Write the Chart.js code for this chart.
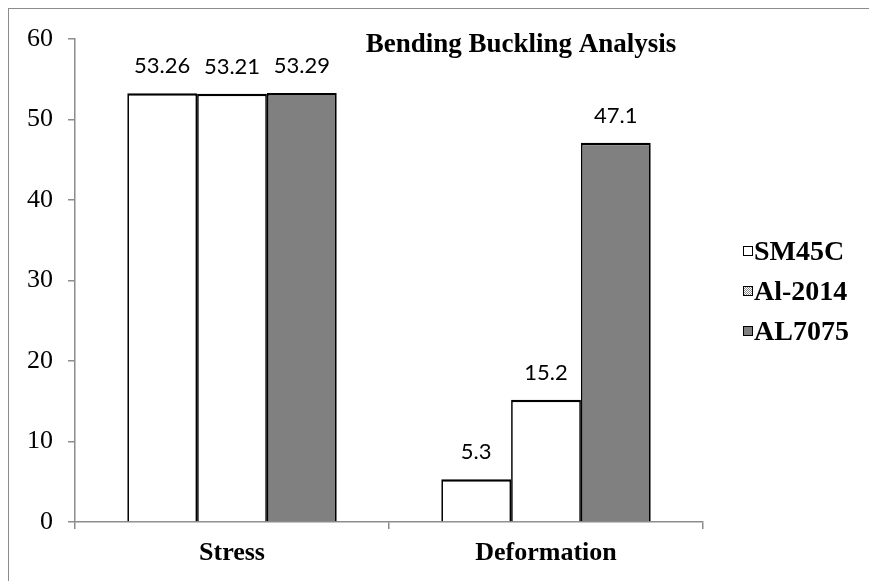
<!DOCTYPE html>
<html>
<head>
<meta charset="utf-8">
<script src="https://cdn.jsdelivr.net/npm/chart.js@4.4.1/dist/chart.umd.min.js"></script>
<style>
    body { margin: 0; background: #fff; overflow: hidden; }
    #wrap { position: relative; width: 869px; height: 581px; overflow: hidden; }
    #frame { position: absolute; left: 8px; top: 8px; width: 900px; height: 620px; border: 1.5px solid #8c8c8c; }
    canvas { position: absolute; left: 0; top: 0; }
</style>
</head>
<body>
<div id="wrap">
    <div id="frame"></div>
    <canvas id="chart" width="869" height="581"></canvas>
</div>
<script>
// Chart values
const categories = ['Stress', 'Deformation'];
const seriesNames = ['SM45C', 'Al-2014', 'AL7075'];
const sm45c = [53.26, 5.3];
const al2014 = [53.21, 15.2];
const al7075 = [53.29, 47.1];
const yTicks = [0, 10, 20, 30, 40, 50, 60];
const chartTitle = 'Bending Buckling Analysis';

const serif = '"Liberation Serif", "Times New Roman", serif';

// Small checkered pattern, used for the Al-2014 legend box
function checkerPattern(ctx) {
    const c = document.createElement('canvas');
    c.width = 2;
    c.height = 2;
    const g = c.getContext('2d');
    g.fillStyle = '#ffffff';
    g.fillRect(0, 0, 2, 2);
    g.fillStyle = '#8a8a8a';
    g.fillRect(0, 0, 1, 1);
    g.fillRect(1, 1, 1, 1);
    return ctx.createPattern(c, 'repeat');
}

// Value labels above the bars
const valueLabels = {
    id: 'valueLabels',
    afterDatasetsDraw(chart) {
        const ctx = chart.ctx;
        ctx.save();
        ctx.font = '22px Lato, "Open Sans", sans-serif';
        ctx.fillStyle = '#000';
        ctx.textAlign = 'center';
        ctx.textBaseline = 'middle';
        chart.data.datasets.forEach((ds, i) => {
            chart.getDatasetMeta(i).data.forEach((bar, j) => {
                ctx.fillText(String(ds.data[j]), bar.x, bar.y - 27);
            });
        });
        ctx.restore();
    }
};

// Title inside the plot area, legend to the right of it
const titleAndLegend = {
    id: 'titleAndLegend',
    afterDraw(chart) {
        const ctx = chart.ctx;
        const area = chart.chartArea;
        ctx.save();
        ctx.fillStyle = '#000';
        ctx.textBaseline = 'alphabetic';
        ctx.textAlign = 'center';
        ctx.font = 'bold 27px ' + serif;
        ctx.fillText(chartTitle, 521, 52);

        ctx.font = 'bold 28px ' + serif;
        ctx.textAlign = 'left';
        ctx.textBaseline = 'middle';
        const boxX = area.right + 40;
        chart.data.datasets.forEach((ds, i) => {
            const y = 252 + i * 40;
            ctx.fillStyle = i === 1 ? checkerPattern(ctx) : ds.backgroundColor;
            ctx.fillRect(boxX, y - 6, 10, 10);
            ctx.strokeStyle = '#000';
            ctx.lineWidth = 1;
            ctx.strokeRect(boxX + 0.5, y - 5.5, 9, 9);
            ctx.fillStyle = '#000';
            ctx.fillText(ds.label, boxX + 11, y + 1);
        });
        ctx.restore();
    }
};

new Chart(document.getElementById('chart').getContext('2d'), {
    type: 'bar',
    data: {
        labels: categories,
        datasets: [
            { label: seriesNames[0], data: sm45c, backgroundColor: '#ffffff' },
            { label: seriesNames[1], data: al2014, backgroundColor: '#ffffff' },
            { label: seriesNames[2], data: al7075, backgroundColor: '#808080' }
        ].map(ds => Object.assign(ds, {
            borderColor: '#000000',
            borderWidth: { top: 2.5, left: 1.7, right: 1.7, bottom: 0 },
            borderSkipped: 'bottom',
            categoryPercentage: 0.667,
            barPercentage: 1.0
        }))
    },
    options: {
        responsive: false,
        animation: false,
        layout: { padding: { top: 39, right: 166, bottom: 0, left: 0 } },
        plugins: {
            tooltip: { enabled: false },
            legend: { display: false }
        },
        scales: {
            x: {
                offset: true,
                grid: {
                    offset: true,
                    drawOnChartArea: false,
                    color: '#8c8c8c',
                    tickLength: 7,
                    lineWidth: 1.5
                },
                border: { color: '#8c8c8c', width: 1.5 },
                ticks: {
                    color: '#000',
                    padding: 9,
                    font: { family: serif, size: 26, weight: 'bold' }
                },
                afterFit(scale) { scale.height = 59; }
            },
            y: {
                min: 0,
                max: 60,
                afterBuildTicks(scale) { scale.ticks = yTicks.map(v => ({ value: v })); },
                grid: {
                    drawOnChartArea: false,
                    color: '#8c8c8c',
                    tickLength: 7,
                    lineWidth: 1.5
                },
                border: { color: '#8c8c8c', width: 1.5 },
                ticks: {
                    color: '#000',
                    padding: 15,
                    font: { family: serif, size: 26 }
                },
                afterFit(scale) { scale.width = 75; }
            }
        }
    },
    plugins: [valueLabels, titleAndLegend]
});
</script>
</body>
</html>
